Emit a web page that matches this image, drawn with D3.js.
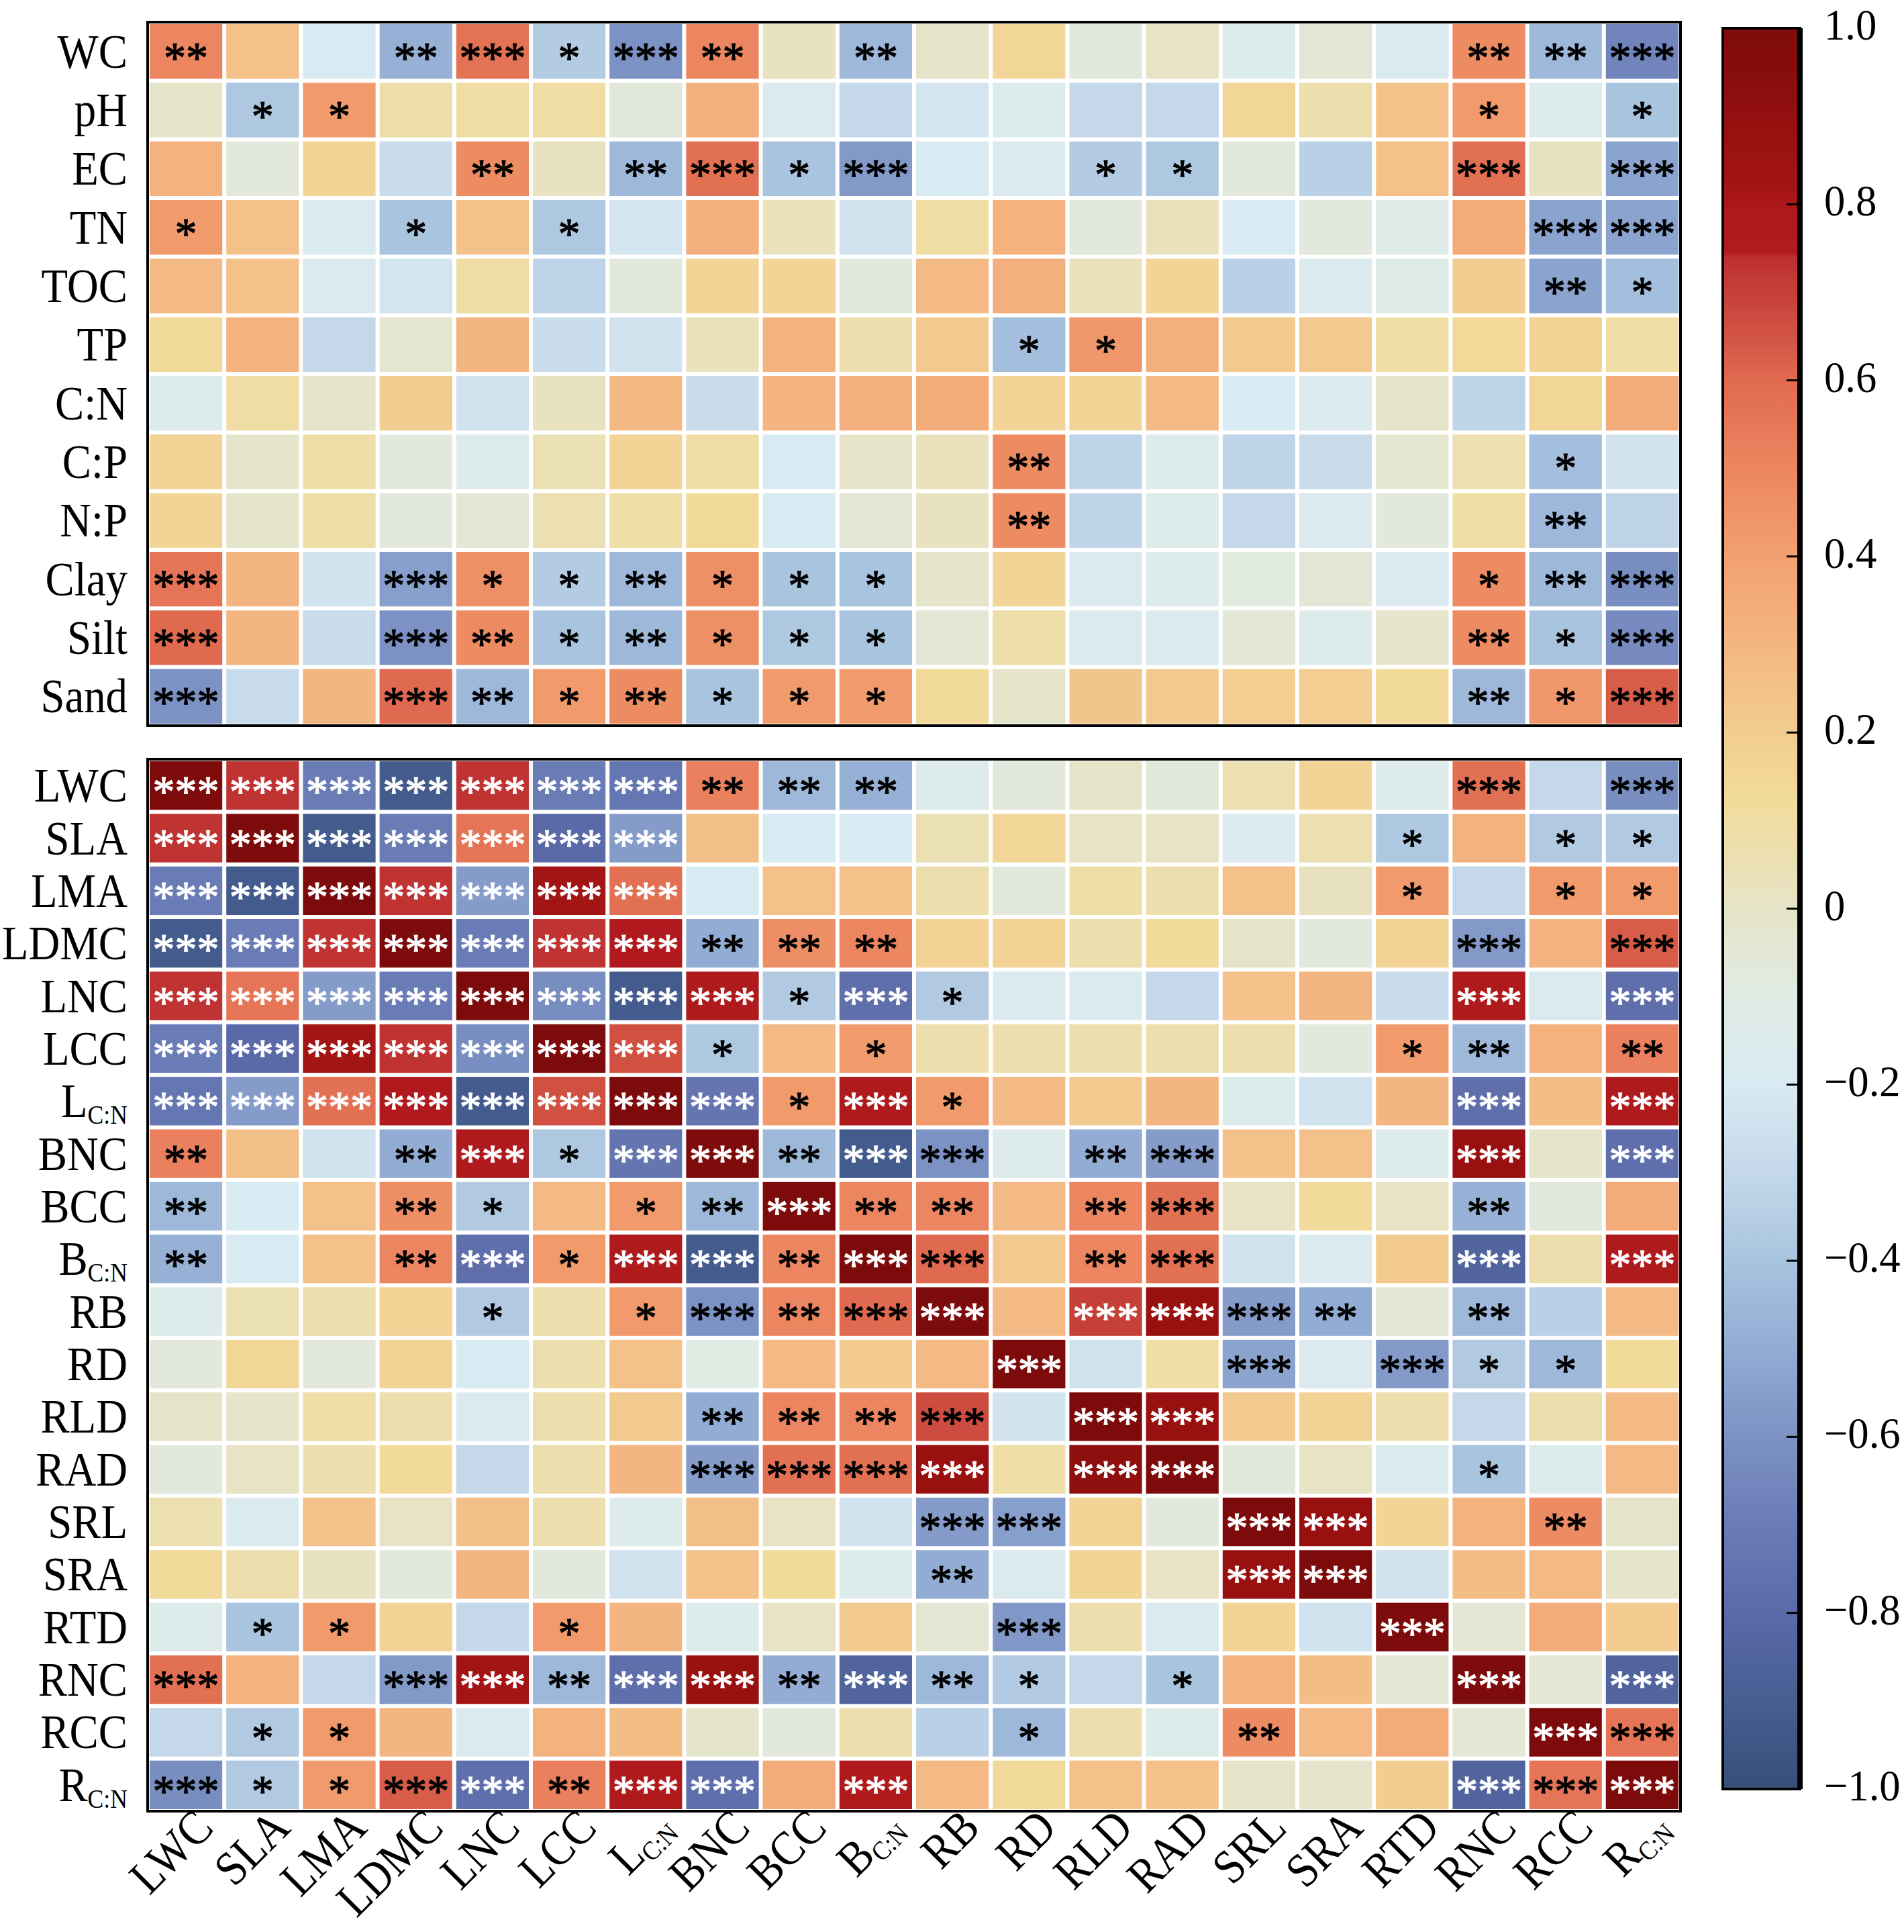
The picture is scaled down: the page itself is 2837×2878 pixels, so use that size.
<!DOCTYPE html>
<html>
<head>
<meta charset="utf-8">
<script src="https://cdn.jsdelivr.net/npm/d3@7"></script>
<style>
  body { margin: 0; background: #fff; }
  svg text { font-family: "Liberation Serif", "Times New Roman", serif; }
</style>
</head>
<body>
<div id="chart"></div>
<script>
// trait names (columns of both panels, rows of the lower panel)
const traits = ["LWC", "SLA", "LMA", "LDMC", "LNC", "LCC", "L_C:N", "BNC", "BCC", "B_C:N",
  "RB", "RD", "RLD", "RAD", "SRL", "SRA", "RTD", "RNC", "RCC", "R_C:N"];
// soil variables (rows of the upper panel)
const soilVars = ["WC", "pH", "EC", "TN", "TOC", "TP", "C:N", "C:P", "N:P", "Clay", "Silt", "Sand"];

// soil x trait correlations
const soilR = [
  [0.50, 0.25, -0.20, -0.48, 0.57, -0.36, -0.60, 0.50, 0.02, -0.45, 0.00, 0.15, -0.07, 0.01, -0.15, -0.05, -0.18, 0.48, -0.45, -0.66],
  [0.00, -0.38, 0.42, 0.08, 0.10, 0.10, -0.06, 0.33, -0.18, -0.30, -0.22, -0.15, -0.30, -0.30, 0.15, 0.07, 0.25, 0.42, -0.15, -0.40],
  [0.32, -0.07, 0.16, -0.28, 0.48, 0.02, -0.45, 0.58, -0.40, -0.57, -0.20, -0.18, -0.36, -0.38, -0.07, -0.34, 0.25, 0.58, 0.02, -0.53],
  [0.42, 0.25, -0.18, -0.40, 0.25, -0.38, -0.22, 0.33, 0.03, -0.24, 0.10, 0.32, -0.07, 0.03, -0.20, -0.07, -0.13, 0.35, -0.54, -0.53],
  [0.28, 0.25, -0.18, -0.23, 0.10, -0.32, -0.07, 0.16, 0.16, -0.07, 0.28, 0.33, 0.03, 0.16, -0.34, -0.18, -0.13, 0.20, -0.53, -0.42],
  [0.13, 0.32, -0.30, -0.03, 0.30, -0.28, -0.24, 0.03, 0.32, 0.07, 0.21, -0.42, 0.43, 0.33, 0.21, 0.21, 0.10, 0.14, 0.17, 0.10],
  [-0.15, 0.10, -0.01, 0.20, -0.24, 0.02, 0.29, -0.28, 0.31, 0.33, 0.35, 0.16, 0.16, 0.28, -0.20, -0.17, -0.01, -0.32, 0.15, 0.35],
  [0.17, -0.01, 0.09, -0.07, -0.14, 0.05, 0.16, 0.10, -0.20, 0.00, 0.03, 0.48, -0.32, -0.14, -0.32, -0.28, -0.03, 0.06, -0.42, -0.24],
  [0.16, -0.01, 0.09, -0.07, -0.04, 0.06, 0.09, 0.13, -0.20, -0.04, 0.02, 0.48, -0.32, -0.14, -0.30, -0.18, -0.07, 0.09, -0.45, -0.32],
  [0.56, 0.30, -0.24, -0.55, 0.46, -0.36, -0.45, 0.46, -0.40, -0.40, -0.01, 0.16, -0.18, -0.14, -0.08, -0.05, -0.18, 0.48, -0.45, -0.62],
  [0.60, 0.30, -0.28, -0.60, 0.48, -0.40, -0.45, 0.46, -0.38, -0.40, -0.05, 0.08, -0.18, -0.18, -0.05, -0.14, -0.02, 0.48, -0.40, -0.63],
  [-0.60, -0.28, 0.30, 0.60, -0.45, 0.42, 0.48, -0.40, 0.42, 0.42, 0.13, -0.01, 0.23, 0.21, 0.19, 0.19, 0.13, -0.45, 0.43, 0.63]
];
const soilSig = [
  "** - - ** *** * *** ** - ** - - - - - - - ** ** ***",
  "- * * - - - - - - - - - - - - - - * - *",
  "- - - - ** - ** *** * *** - - * * - - - *** - ***",
  "* - - * - * - - - - - - - - - - - - *** ***",
  "- - - - - - - - - - - - - - - - - - ** *",
  "- - - - - - - - - - - * * - - - - - - -",
  "- - - - - - - - - - - - - - - - - - - -",
  "- - - - - - - - - - - ** - - - - - - * -",
  "- - - - - - - - - - - ** - - - - - - ** -",
  "*** - - *** * * ** * * * - - - - - - - * ** ***",
  "*** - - *** ** * ** * * * - - - - - - - ** * ***",
  "*** - - *** ** * ** * * * - - - - - - - ** * ***"
];

// trait x trait correlations
const traitR = [
  [1.00, 0.73, -0.70, -0.92, 0.73, -0.70, -0.73, 0.52, -0.45, -0.48, -0.14, -0.07, 0.00, -0.06, 0.06, 0.16, -0.14, 0.58, -0.30, -0.62],
  [0.73, 1.00, -0.92, -0.70, 0.56, -0.80, -0.56, 0.26, -0.20, -0.20, 0.05, 0.15, 0.01, 0.01, -0.18, 0.06, -0.38, 0.32, -0.37, -0.37],
  [-0.70, -0.92, 1.00, 0.73, -0.56, 0.82, 0.58, -0.20, 0.25, 0.25, 0.07, -0.07, 0.09, 0.07, 0.25, 0.02, 0.42, -0.30, 0.42, 0.42],
  [-0.92, -0.70, 0.73, 1.00, -0.70, 0.73, 0.77, -0.50, 0.47, 0.50, 0.17, 0.17, 0.07, 0.13, 0.00, -0.07, 0.17, -0.57, 0.32, 0.63],
  [0.73, 0.56, -0.56, -0.70, 1.00, -0.62, -0.92, 0.78, -0.37, -0.77, -0.37, -0.18, -0.18, -0.30, 0.25, 0.30, -0.28, 0.78, -0.18, -0.77],
  [-0.70, -0.80, 0.82, 0.73, -0.62, 1.00, 0.66, -0.38, 0.28, 0.42, 0.07, 0.07, 0.07, 0.07, 0.07, -0.07, 0.42, -0.45, 0.32, 0.52],
  [-0.73, -0.56, 0.58, 0.77, -0.92, 0.66, 1.00, -0.74, 0.42, 0.78, 0.42, 0.28, 0.21, 0.30, -0.14, -0.24, 0.30, -0.77, 0.27, 0.78],
  [0.52, 0.26, -0.24, -0.50, 0.78, -0.38, -0.74, 1.00, -0.45, -0.92, -0.60, -0.14, -0.50, -0.56, 0.25, 0.25, -0.14, 0.88, -0.01, -0.77],
  [-0.45, -0.20, 0.25, 0.47, -0.37, 0.28, 0.42, -0.45, 1.00, 0.50, 0.50, 0.28, 0.50, 0.58, 0.01, 0.13, 0.01, -0.48, -0.07, 0.35],
  [-0.48, -0.20, 0.25, 0.50, -0.77, 0.42, 0.78, -0.92, 0.50, 1.00, 0.60, 0.21, 0.50, 0.58, -0.24, -0.18, 0.21, -0.85, 0.07, 0.78],
  [-0.14, 0.05, 0.07, 0.17, -0.37, 0.07, 0.42, -0.60, 0.50, 0.60, 1.00, 0.28, 0.70, 0.88, -0.56, -0.50, -0.04, -0.45, -0.34, 0.28],
  [-0.07, 0.15, -0.07, 0.17, -0.20, 0.07, 0.25, -0.10, 0.28, 0.21, 0.28, 1.00, -0.24, 0.09, -0.53, -0.18, -0.57, -0.37, -0.45, 0.13],
  [0.00, -0.01, 0.09, 0.07, -0.18, 0.07, 0.21, -0.50, 0.50, 0.50, 0.67, -0.24, 1.00, 0.88, 0.21, 0.17, 0.07, -0.30, 0.07, 0.28],
  [-0.07, 0.01, 0.07, 0.13, -0.30, 0.07, 0.30, -0.56, 0.58, 0.58, 0.88, 0.09, 0.92, 1.00, -0.07, 0.01, -0.18, -0.40, -0.14, 0.28],
  [0.06, -0.17, 0.25, 0.01, 0.26, 0.07, -0.14, 0.26, 0.01, -0.24, -0.56, -0.55, 0.17, -0.07, 1.00, 0.88, 0.16, 0.32, 0.48, 0.00],
  [0.13, 0.07, 0.02, -0.07, 0.30, -0.07, -0.24, 0.25, 0.13, -0.14, -0.50, -0.17, 0.16, 0.01, 0.88, 1.00, -0.24, 0.27, 0.28, -0.01],
  [-0.14, -0.40, 0.42, 0.17, -0.30, 0.42, 0.30, -0.14, 0.01, 0.21, -0.04, -0.58, 0.07, -0.18, 0.16, -0.24, 1.00, -0.04, 0.35, 0.20],
  [0.58, 0.32, -0.30, -0.57, 0.82, -0.45, -0.77, 0.88, -0.50, -0.85, -0.45, -0.37, -0.30, -0.40, 0.32, 0.27, -0.04, 1.00, -0.04, -0.85],
  [-0.30, -0.37, 0.42, 0.30, -0.18, 0.32, 0.27, -0.01, -0.07, 0.07, -0.34, -0.45, 0.07, -0.14, 0.48, 0.28, 0.35, -0.04, 1.00, 0.56],
  [-0.62, -0.37, 0.42, 0.63, -0.77, 0.52, 0.78, -0.77, 0.35, 0.78, 0.28, 0.13, 0.25, 0.25, 0.00, -0.01, 0.20, -0.85, 0.56, 1.00]
];
const traitSig = [
  "*** *** *** *** *** *** *** ** ** ** - - - - - - - *** - ***",
  "*** *** *** *** *** *** *** - - - - - - - - - * - * *",
  "*** *** *** *** *** *** *** - - - - - - - - - * - * *",
  "*** *** *** *** *** *** *** ** ** ** - - - - - - - *** - ***",
  "*** *** *** *** *** *** *** *** * *** * - - - - - - *** - ***",
  "*** *** *** *** *** *** *** * - * - - - - - - * ** - **",
  "*** *** *** *** *** *** *** *** * *** * - - - - - - *** - ***",
  "** - - ** *** * *** *** ** *** *** - ** *** - - - *** - ***",
  "** - - ** * - * ** *** ** ** - ** *** - - - ** - -",
  "** - - ** *** * *** *** ** *** *** - ** *** - - - *** - ***",
  "- - - - * - * *** ** *** *** - *** *** *** ** - ** - -",
  "- - - - - - - - - - - *** - - *** - *** * * -",
  "- - - - - - - ** ** ** *** - *** *** - - - - - -",
  "- - - - - - - *** *** *** *** - *** *** - - - * - -",
  "- - - - - - - - - - *** *** - - *** *** - - ** -",
  "- - - - - - - - - - ** - - - *** *** - - - -",
  "- * * - - * - - - - - *** - - - - *** - - -",
  "*** - - *** *** ** *** *** ** *** ** * - * - - - *** - ***",
  "- * * - - - - - - - - * - - ** - - - *** ***",
  "*** * * *** *** ** *** *** - *** - - - - - - - *** *** ***"
];

const cbTicks = [1, 0.8, 0.6, 0.4, 0.2, 0, -0.2, -0.4, -0.6, -0.8, -1];

// colour map (value -> colour)
const cStops = [1, 0.93, 0.88, 0.82, 0.79, 0.745, 0.74, 0.7, 0.65, 0.6, 0.5, 0.4, 0.3, 0.2, 0.12, 0.05, 0,
  -0.1, -0.2, -0.3, -0.4, -0.5, -0.6, -0.7, -0.8, -0.9, -1];
const cHex = ["#7e0b0b", "#8c0e0e", "#991010", "#a31414", "#ae191c", "#b21c20", "#be2e30", "#c6403a",
  "#d25444", "#e06a50", "#ec8660", "#f2a070", "#f3b682", "#f2cc90", "#f2dc9c", "#ebe0b4", "#e6e4c8",
  "#e0ebe4", "#d8eaf2", "#c4d8ea", "#a9c4df", "#92acd4", "#7c92c4", "#6a7cb6", "#5a6aa8", "#475e92", "#375078"];
const color = d3.scaleLinear().domain(cStops).range(cHex).interpolate(d3.interpolateRgb);

const W = 2837, H = 2878;
const svg = d3.select("#chart").append("svg")
    .attr("width", W)
    .attr("height", H);

const fontMain = 72;
const squeeze = 0.9;   // the labels are a little narrow in the original
const fontStar = 66;

// label with optional subscript: "L_C:N"
function addLabel(sel, name) {
  const parts = name.split("_");
  sel.text(parts[0]);
  if (parts[1]) {
    sel.append("tspan")
        .attr("dy", 10)
        .attr("font-size", fontMain * 0.55)
        .text(parts[1]);
  }
}

const x = d3.scaleBand().domain(traits).range([220, 2504]);
const ySoil = d3.scaleBand().domain(soilVars).range([33, 1081]);
const yTrait = d3.scaleBand().domain(traits).range([1131, 2698]);
const gap = 3;

function panel(rows, yScale, vals, sigs, lightRule) {
  const g = svg.append("g");
  const cells = [];
  rows.forEach((r, i) => {
    const sig = sigs[i].split(" ");
    traits.forEach((c, j) => {
      cells.push({ r, c, i, j, v: vals[i][j], s: sig[j] === "-" ? "" : sig[j] });
    });
  });

  g.selectAll("rect.cell")
    .data(cells)
    .enter().append("rect")
    .attr("class", "cell")
    .attr("x", d => x(d.c) + gap)
    .attr("y", d => yScale(d.r) + gap)
    .attr("width", x.bandwidth() - 2 * gap)
    .attr("height", yScale.bandwidth() - 2 * gap)
    .attr("fill", d => color(d.v));

  g.selectAll("text.sig")
    .data(cells.filter(d => d.s))
    .enter().append("text")
    .attr("class", "sig")
    .attr("x", d => x(d.c) + x.bandwidth() / 2)
    .attr("y", d => yScale(d.r) + yScale.bandwidth() / 2 + fontStar * 0.47)
    .attr("text-anchor", "middle")
    .attr("font-size", fontStar)
    .attr("fill", d => lightRule(d) ? "#fff" : "#000")
    .attr("stroke", d => lightRule(d) ? "#fff" : "#000")
    .attr("stroke-width", 1.2)
    .text(d => d.s);

  // row labels
  g.selectAll("text.row")
    .data(rows)
    .enter().append("text")
    .attr("class", "row")
    .attr("transform", d => `translate(190,${yScale(d) + yScale.bandwidth() / 2 + 24}) scale(${squeeze},1)`)
    .attr("text-anchor", "end")
    .attr("font-size", fontMain)
    .each(function(d) { addLabel(d3.select(this), d); });

  const [y0, y1] = yScale.range();
  const [x0, x1] = x.range();
  g.append("rect")
    .attr("x", x0).attr("y", y0)
    .attr("width", x1 - x0).attr("height", y1 - y0)
    .attr("fill", "none")
    .attr("stroke", "#000")
    .attr("stroke-width", 4);
}

panel(soilVars, ySoil, soilR, soilSig, () => false);
panel(traits, yTrait, traitR, traitSig, d => (d.i < 7 && d.j < 7) || Math.abs(d.v) >= 0.68);

// column labels, rotated
svg.append("g").selectAll("g")
  .data(traits)
  .enter().append("g")
  .attr("transform", d => `translate(${x(d) + x.bandwidth() / 2 + 44},2726) rotate(-45) scale(${squeeze},1)`)
  .append("text")
  .attr("text-anchor", "end")
  .attr("font-size", fontMain)
  .each(function(d) { addLabel(d3.select(this), d); });

// colour bar
const cb = d3.scaleLinear().domain([-1, 1]).range([2665, 42]);
const cbX = 2567, cbW = 115;
const grad = svg.append("defs").append("linearGradient")
    .attr("id", "cbgrad")
    .attr("x1", 0).attr("y1", 0).attr("x2", 0).attr("y2", 1);
grad.selectAll("stop")
  .data(cStops)
  .enter().append("stop")
  .attr("offset", d => (1 - d) / 2)
  .attr("stop-color", d => color(d));

svg.append("rect")
    .attr("x", cbX).attr("y", cb(1))
    .attr("width", cbW).attr("height", cb(-1) - cb(1))
    .attr("fill", "url(#cbgrad)")
    .attr("stroke", "#000")
    .attr("stroke-width", 4);
svg.append("line")
    .attr("x1", cbX + cbW).attr("x2", cbX + cbW)
    .attr("y1", cb(1)).attr("y2", cb(-1))
    .attr("stroke", "#000")
    .attr("stroke-width", 8);

svg.append("g").selectAll("line")
  .data(cbTicks)
  .enter().append("line")
  .attr("x1", cbX + cbW - 20).attr("x2", cbX + cbW)
  .attr("y1", d => cb(d)).attr("y2", d => cb(d))
  .attr("stroke", "#000")
  .attr("stroke-width", 3);

svg.append("g").selectAll("text")
  .data(cbTicks)
  .enter().append("text")
  .attr("transform", d => `translate(2718,${cb(d) + 17}) scale(0.95,1)`)
  .attr("font-size", 66)
  .text(d => d === 0 ? "0" : (d < 0 ? "\u2212" : "") + Math.abs(d).toFixed(1));
</script>
</body>
</html>
